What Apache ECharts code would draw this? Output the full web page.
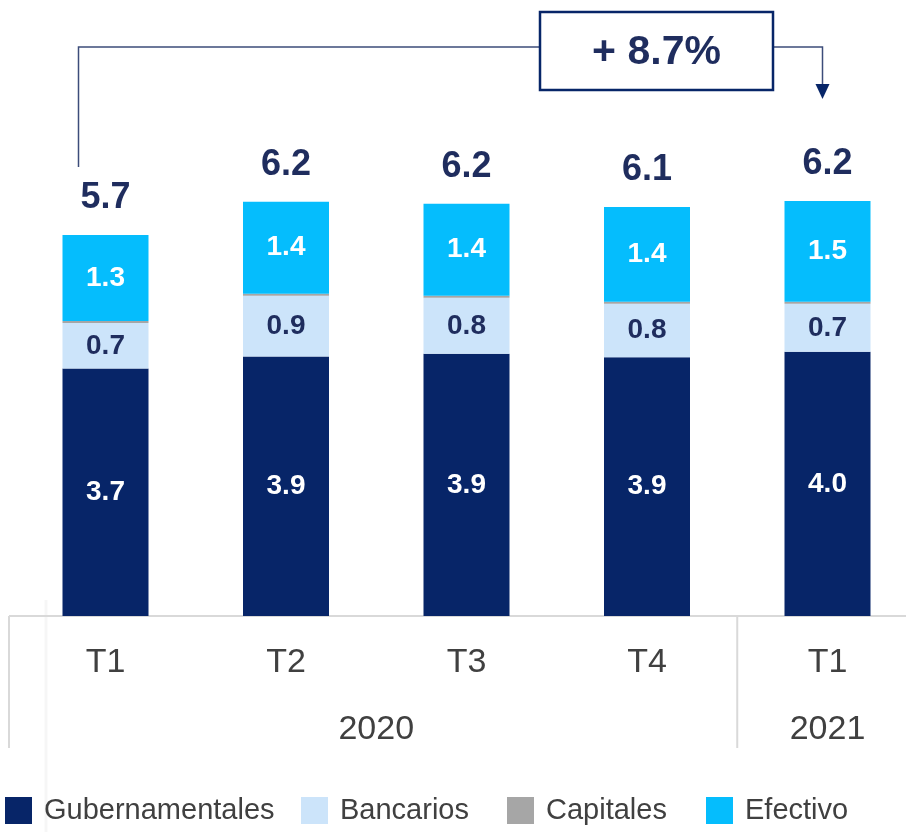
<!DOCTYPE html>
<html>
<head>
<meta charset="utf-8">
<title>Portafolio</title>
<script src="https://cdn.jsdelivr.net/npm/echarts@6/dist/echarts.min.js"></script>
<style>
	html, body { margin: 0; padding: 0; background: #fff; }
	#main { width: 906px; height: 832px; }
</style>
</head>
<body>
<div id="main"></div>
<script>
	// datos (miles de millones)
	var CATEGORIES = ['T1', 'T2', 'T3', 'T4', 'T1'];
	var YEARS = ['2020', '2021'];
	var YEAR_SPANS = [[0, 3], [4, 4]];
	var GUBERNAMENTALES = [3.71, 3.89, 3.93, 3.88, 3.96];
	var BANCARIOS = [0.68, 0.91, 0.84, 0.80, 0.72];
	var CAPITALES = [0.03, 0.03, 0.03, 0.03, 0.03];
	var EFECTIVO = [1.29, 1.38, 1.38, 1.42, 1.51];
	var SERIES_NAMES = ['Gubernamentales', 'Bancarios', 'Capitales', 'Efectivo'];
	var GROWTH_LABEL = '+ 8.7%';

	var NAVY = '#072568';
	var TEXT_NAVY = '#1f2d5e';
	var COLORS = ['#072568', '#cce4fa', '#a6a6a6', '#05bdfd'];
	var FONT = '"Liberation Sans", Arial, sans-serif';

	var TOTALS = [];
	for (var i = 0; i < CATEGORIES.length; i++) {
		TOTALS.push(GUBERNAMENTALES[i] + BANCARIOS[i] + CAPITALES[i] + EFECTIVO[i]);
	}

	/**
	 * serie apilada
	 */
	var makeSeries = function (name, data, color, labelColor) {
		return {
			name: name,
			type: 'bar',
			stack: 'total',
			barWidth: 86,
			data: data,
			itemStyle: { color: color },
			label: {
				show: !!labelColor,
				position: 'inside',
				color: labelColor,
				fontFamily: FONT,
				fontWeight: 'bold',
				fontSize: 28,
				formatter: function (p) { return p.value.toFixed(1); }
			}
		};
	};

	var legendLeft = [0, 296, 502, 701];
	var legends = [];
	for (var k = 0; k < SERIES_NAMES.length; k++) {
		legends.push({
			data: [SERIES_NAMES[k]],
			left: legendLeft[k],
			top: 791,
			icon: 'rect',
			itemWidth: 27,
			itemHeight: 27,
			selectedMode: false,
			textStyle: { fontFamily: FONT, fontSize: 29, color: '#404040', padding: [0, 0, 0, 7] }
		});
	}

	var chart = echarts.init(document.getElementById('main'));
	chart.setOption({
		animation: false,
		backgroundColor: '#fff',
		grid: { left: 15.25, width: 902.5, top: 149, height: 467, outerBoundsMode: 'none', containLabel: false },
		legend: legends,
		xAxis: {
			type: 'category',
			data: CATEGORIES,
			axisLine: { show: false },
			axisTick: { show: false },
			axisLabel: { fontFamily: FONT, fontSize: 34, color: '#404040', margin: 30 }
		},
		yAxis: { type: 'value', min: 0, max: 7, show: false, splitLine: { show: false } },
		series: [
			makeSeries(SERIES_NAMES[0], GUBERNAMENTALES, COLORS[0], '#ffffff'),
			makeSeries(SERIES_NAMES[1], BANCARIOS, COLORS[1], TEXT_NAVY),
			makeSeries(SERIES_NAMES[2], CAPITALES, COLORS[2], null),
			makeSeries(SERIES_NAMES[3], EFECTIVO, COLORS[3], '#ffffff'),
			{
				name: 'Total',
				type: 'bar',
				stack: 'total',
				barWidth: 86,
				data: TOTALS.map(function () { return 0; }),
				itemStyle: { color: 'transparent' },
				label: {
					show: true,
					position: 'top',
					distance: 19,
					color: TEXT_NAVY,
					fontFamily: FONT,
					fontWeight: 'bold',
					fontSize: 36,
					formatter: function (p) { return TOTALS[p.dataIndex].toFixed(1); }
				}
			}
		]
	});

	/**
	 * anotaciones: eje, separadores, años y flecha de crecimiento
	 */
	var toPx = function (idx, val) {
		return chart.convertToPixel({ xAxisIndex: 0, yAxisIndex: 0 }, [idx, val]);
	};
	var base = toPx(0, 0)[1];
	var band = toPx(1, 0)[0] - toPx(0, 0)[0];
	var lineStyle = { stroke: '#d9d9d9', lineWidth: 2 };
	var g = [];

	g.push({ type: 'line', shape: { x1: 46, y1: 600, x2: 46, y2: 832 }, style: { stroke: '#f6f6f6', lineWidth: 3 }, z: 0 });
	g.push({ type: 'line', shape: { x1: 9, y1: base, x2: 906, y2: base }, style: lineStyle });
	g.push({ type: 'line', shape: { x1: 9, y1: base, x2: 9, y2: base + 132 }, style: lineStyle });
	var sepX = toPx(YEAR_SPANS[1][0], 0)[0] - band / 2;
	g.push({ type: 'line', shape: { x1: sepX, y1: base, x2: sepX, y2: base + 132 }, style: lineStyle });

	for (var y = 0; y < YEARS.length; y++) {
		var cx = (toPx(YEAR_SPANS[y][0], 0)[0] + toPx(YEAR_SPANS[y][1], 0)[0]) / 2;
		g.push({
			type: 'text', x: cx, y: base + 114,
			style: { text: YEARS[y], fill: '#404040', fontFamily: FONT, fontSize: 34, align: 'center', verticalAlign: 'middle' }
		});
	}

	var last = CATEGORIES.length - 1;
	var leftX = toPx(0, 0)[0] - 27;
	var rightX = toPx(last, 0)[0] - 5;
	var lineY = 47;
	var box = { x: 540, y: 12, width: 233, height: 78 };
	var bracket = { stroke: '#3c4c7a', lineWidth: 1.5, fill: null };
	g.push({ type: 'polyline', shape: { points: [[leftX, 167], [leftX, lineY], [box.x, lineY]] }, style: bracket });
	g.push({ type: 'polyline', shape: { points: [[box.x + box.width, lineY], [rightX, lineY], [rightX, 86]] }, style: bracket });
	g.push({ type: 'polygon', shape: { points: [[rightX - 7, 84], [rightX + 7, 84], [rightX, 99]] }, style: { fill: NAVY } });
	g.push({ type: 'rect', shape: box, style: { fill: '#fff', stroke: NAVY, lineWidth: 2.5 } });
	g.push({
		type: 'text', x: box.x + box.width / 2, y: box.y + box.height / 2 + 2,
		style: { text: GROWTH_LABEL, fill: TEXT_NAVY, fontFamily: FONT, fontWeight: 'bold', fontSize: 41, align: 'center', verticalAlign: 'middle' }
	});

	chart.setOption({ graphic: g });
</script>
</body>
</html>
